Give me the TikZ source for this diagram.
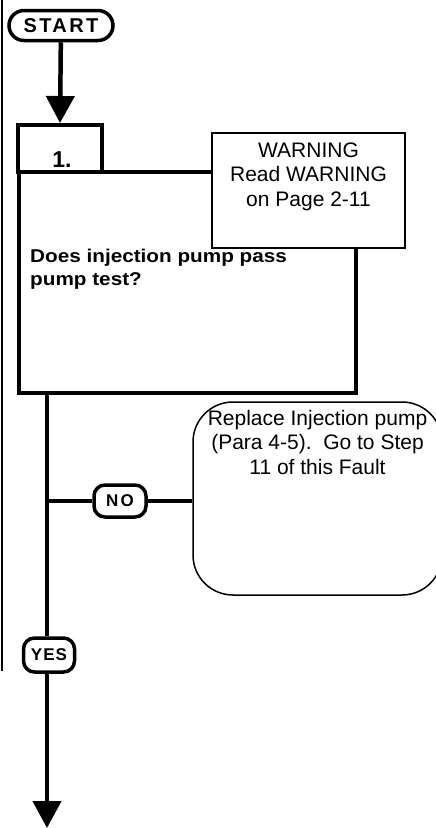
\documentclass[tikz,border=0pt]{standalone}
\usepackage{fontspec}
\setmainfont{Liberation Sans}
\newfontfamily\qfont[FakeStretch=1.12]{Liberation Sans}
\newfontfamily\lsfont[LetterSpace=12]{Liberation Sans}
\usetikzlibrary{arrows.meta}
\begin{document}
\begin{tikzpicture}[x=1pt,y=-1pt,
  oval/.style={draw, line width=3.5pt, rounded corners=11pt, fill=white, inner sep=0pt, font=\lsfont\bfseries},
  stepbox/.style={draw, line width=4pt, inner sep=0pt},
  thinbox/.style={draw, line width=1.5pt, fill=white, inner sep=0pt},
  flow/.style={line width=4.5pt},
  flowarrow/.style={line width=4.5pt, -{Triangle[width=28pt,length=27pt]}},
  txt/.style={inner sep=0pt, anchor=base}]
\useasboundingbox (0,0) rectangle (436,828);
% left border line
\coordinate (lt) at (1.5,0);
\coordinate (lb) at (1.5,671);
\draw[line width=2pt] (lt) -- (lb);
% start
\node[oval, minimum width=104pt, minimum height=30pt, rounded corners=15pt, font=\lsfont\bfseries\fontsize{20}{21}\selectfont] (start) at (61,25.5) {START};
% tab and main step box
\node[stepbox, minimum width=84pt, minimum height=47pt] (tab) at (60,148.5) {};
\node[txt, font=\bfseries\fontsize{23}{25}\selectfont] (num) at (62,167) {1.};
\node[stepbox, minimum width=337pt, minimum height=221pt] (q) at (187.5,282.5) {};
\node[txt, anchor=base west, align=left, font=\qfont\bfseries\fontsize{18.5}{23}\selectfont] (qt) at (30,285) {Does injection pump pass\\pump test?};
% warning
\node[thinbox, minimum width=193pt, minimum height=115pt] (warn) at (308.5,190.5) {};
\node[txt, align=center, font=\fontsize{21}{24.5}\selectfont] (wt) at (308.5,206) {WARNING\\Read WARNING\\on Page 2-11};
% start arrow
\draw[flowarrow] (start) -- (tab.north);
% decision branch
\coordinate (br) at (47,501);
\coordinate (endc) at (47,828);
\node[oval, minimum width=52pt, minimum height=32pt, font=\lsfont\bfseries\fontsize{17}{18}\selectfont] (no) at (120,501) {NO};
\node[oval, minimum width=51pt, minimum height=34pt, font=\lsfont\addfontfeatures{LetterSpace=6}\bfseries\fontsize{17}{18}\selectfont] (yes) at (49,655) {YES};
\node[thinbox, rounded corners=40pt, minimum width=249pt, minimum height=193pt] (fix) at (317.5,498.5) {};
\node[txt, align=center, font=\fontsize{21}{24.5}\selectfont] (ft) at (317.5,474) {Replace Injection pump\\(Para 4-5).\ \ Go to Step\\11 of this Fault};
\draw[flow] (q.south -| br) -- (yes.north -| br);
\draw[line width=3.5pt] (br) -- (no) -- (no -| fix.west);
\draw[flowarrow] (yes.south -| br) -- (endc);
\end{tikzpicture}
\end{document}
